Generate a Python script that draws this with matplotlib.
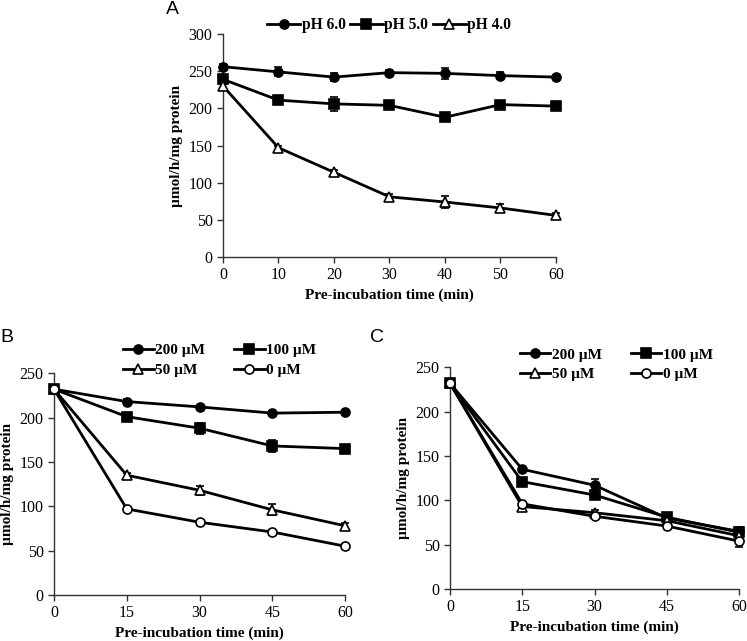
import matplotlib
matplotlib.use("Agg")
import matplotlib.pyplot as plt

plt.rcParams['font.family'] = ['Liberation Serif', 'DejaVu Serif']

# panel A data
time_a = [0, 10, 20, 30, 40, 50, 60]
ph6 = [256, 249, 242, 248, 247, 244, 242]
ph6_err = [3, 6, 5, 3, 7, 5, 3]
ph5 = [239, 211, 206, 204, 188, 205, 203]
ph5_err = [5, 5, 9, 3, 4, 4, 3]
ph4 = [230, 147, 114, 81, 74, 66, 56]
ph4_err = [3, 3, 3, 4, 8, 6, 3]

# panel B / C data
time_bc = [0, 15, 30, 45, 60]
conc_labels = ['200 µM', '100 µM', '50 µM', '0 µM']
b_200 = [232, 218, 212, 205, 206]
b_100 = [232, 201, 188, 168, 165]
b_50 = [232, 135, 118, 96, 78]
b_0 = [232, 97, 82, 71, 55]
b_err = [[2, 3, 2, 2, 2], [2, 3, 6, 7, 3], [2, 3, 5, 6, 3], [2, 2, 3, 2, 3]]
c_200 = [232, 135, 117, 80, 65]
c_100 = [232, 121, 106, 81, 64]
c_50 = [232, 93, 86, 77, 60]
c_0 = [232, 96, 82, 71, 54]
c_err = [[2, 3, 7, 3, 5], [2, 3, 4, 3, 5], [2, 3, 3, 3, 4], [2, 3, 3, 3, 7]]

styles = [dict(marker='o', mfc='black'), dict(marker='s', mfc='black'),
          dict(marker='^', mfc='white'), dict(marker='o', mfc='white')]

fig = plt.figure(figsize=(7.47, 6.41), dpi=100)
axA = fig.add_axes([0.2985, 0.599, 0.4458, 0.348])
axB = fig.add_axes([0.0723, 0.0718, 0.3896, 0.346])
axC = fig.add_axes([0.6024, 0.0811, 0.387, 0.346])


def draw(ax, x, y, err, st, label):
    c = ax.errorbar(x, y, yerr=err, color='black', lw=2, ms=6.5, mec='black',
                    mew=1.2, capsize=3, elinewidth=1, capthick=1, label=label,
                    clip_on=False, zorder=3, **st)
    return c[0]


def style_axes(ax, xlim, xticks, ylim, yticks):
    ax.set_xlim(xlim)
    ax.set_ylim(ylim)
    ax.set_xticks(xticks)
    ax.set_yticks(yticks)
    for s in ['top', 'right']:
        ax.spines[s].set_visible(False)
    for s in ['left', 'bottom']:
        ax.spines[s].set_linewidth(1.0)
        ax.spines[s].set_color('#333333')
    ax.tick_params(direction='out', length=4, width=1, labelsize=11.5,
                   colors='#333333', labelcolor='black')
    ax.set_xlabel('Pre-incubation time (min)', fontsize=11, fontweight='bold')
    ax.set_ylabel('µmol/h/mg protein', fontsize=11, fontweight='bold')


lines_a = []
lines_a.append(draw(axA, time_a, ph6, ph6_err, styles[0], 'pH 6.0'))
lines_a.append(draw(axA, time_a, ph5, ph5_err, styles[1], 'pH 5.0'))
lines_a.append(draw(axA, time_a, ph4, ph4_err, styles[2], 'pH 4.0'))
style_axes(axA, (0, 60), time_a, (0, 300), range(0, 301, 50))
axA.legend(lines_a, ['pH 6.0', 'pH 5.0', 'pH 4.0'], loc='center',
           bbox_to_anchor=(0.521, 0.961),
           bbox_transform=fig.transFigure, ncol=3, frameon=False,
           prop={'weight': 'bold', 'size': 11.2}, handlelength=2.1,
           handletextpad=0.1, columnspacing=0.3, borderpad=0)

for ax, series, errs, centre in [
        (axB, [b_200, b_100, b_50, b_0], b_err, (0.294, 0.438)),
        (axC, [c_200, c_100, c_50, c_0], c_err, (0.825, 0.431))]:
    lines = []
    for y, e, st, lab in zip(series, errs, styles, conc_labels):
        lines.append(draw(ax, time_bc, y, e, st, lab))
    style_axes(ax, (0, 60), time_bc, (0, 250), range(0, 251, 50))
    # legend is filled column by column, so reorder to get rows 200/100, 50/0
    order = [0, 2, 1, 3]
    ax.legend([lines[i] for i in order], [conc_labels[i] for i in order],
              loc='center', bbox_to_anchor=centre,
              bbox_transform=fig.transFigure, ncol=2, frameon=False,
              prop={'weight': 'bold', 'size': 11}, handlelength=2.0,
              handletextpad=0.1, columnspacing=1.9, labelspacing=0.4,
              borderpad=0)

fig.text(172 / 747, 1 - 10 / 641, 'A', fontsize=14, family='Liberation Sans',
         ha='center', va='center')
fig.text(7 / 747, 1 - 337 / 641, 'B', fontsize=14, family='Liberation Sans',
         ha='center', va='center')
fig.text(377 / 747, 1 - 337 / 641, 'C', fontsize=14, family='Liberation Sans',
         ha='center', va='center')

fig.savefig('out.png', dpi=100)
